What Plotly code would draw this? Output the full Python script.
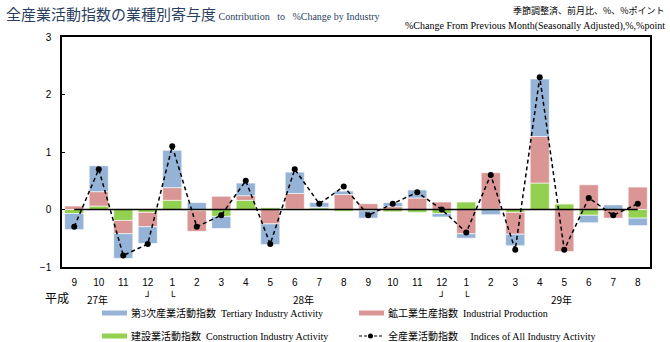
import plotly.graph_objects as go

months = [9, 10, 11, 12, 1, 2, 3, 4, 5, 6, 7, 8, 9, 10, 11, 12, 1, 2, 3, 4, 5, 6, 7, 8]
construction = [-0.07, 0.06, -0.19, -0.05, 0.16, -0.02, -0.12, 0.16, 0.03, 0.01, 0.03, -0.03,
                -0.02, -0.04, -0.05, -0.07, 0.13, 0.01, -0.05, 0.46, 0.10, -0.10, 0.00, -0.15]
industrial = [0.06, 0.25, -0.23, -0.25, 0.22, -0.36, 0.23, 0.08, -0.25, 0.27, 0.01, 0.26,
              0.10, 0.05, 0.20, 0.13, -0.42, 0.63, -0.38, 0.81, -0.73, 0.43, -0.15, 0.39]
tertiary = [-0.28, 0.45, -0.43, -0.29, 0.65, 0.12, -0.21, 0.22, -0.36, 0.37, 0.08, 0.06,
            -0.13, 0.07, 0.14, -0.06, -0.08, -0.09, -0.20, 1.00, 0.00, -0.13, 0.08, -0.13]
all_industry = [-0.3, 0.7, -0.8, -0.6, 1.1, -0.3, -0.1, 0.5, -0.6, 0.7, 0.1, 0.4,
                -0.1, 0.1, 0.3, 0.0, -0.4, 0.6, -0.7, 2.3, -0.7, 0.2, -0.1, 0.1]
y_ticks = [-1, 0, 1, 2, 3]
year_labels = ["27年", "28年", "29年"]
year_pos = [0.95, 9.35, 19.9]

W, H = 670, 342
L, R, T, B = 62, 20, 37, 75
PW, PH = W - L - R, H - T - B


def px(xp):
    return (xp - L) / PW


def py(yp):
    return (H - B - yp) / PH


FONT_MIX = "Liberation Serif, Noto Sans CJK JP"
FONT_JP = "Noto Sans CJK JP"
C_BLUE = "#95B3D7"
C_RED = "#D99694"
C_GREEN = "#92D050"

x = list(range(len(months)))
fig = go.Figure()

for name, vals, col in [("建設業活動指数", construction, C_GREEN),
                        ("鉱工業生産指数", industrial, C_RED),
                        ("第3次産業活動指数", tertiary, C_BLUE)]:
    fig.add_trace(go.Bar(x=x, y=vals, marker=dict(color=col, line=dict(color="white", width=0.6)),
                         showlegend=False, name=name))

fig.add_shape(type="line", xref="x", yref="y", x0=0, x1=len(months) - 1, y0=0, y1=0,
              line=dict(color="black", width=1.5), layer="above")

fig.add_trace(go.Scatter(x=x, y=all_industry, mode="lines+markers",
                         line=dict(color="black", width=1.5, dash="4px,3px"),
                         marker=dict(color="black", size=6),
                         name="全産業活動指数", showlegend=False))

ann = []
ann.append(dict(x=px(4), y=py(14), xref="paper", yref="paper", xanchor="left", yanchor="middle",
                showarrow=False,
                text="<span style='font-family:Noto Sans CJK JP;font-size:15px'>全産業活動指数の業種別寄与度</span>"
                     "<span style='font-family:Liberation Serif;font-size:10px'> Contribution&nbsp;&nbsp; to&nbsp;&nbsp; %Change by Industry</span>"))
ann.append(dict(x=px(667), y=py(10), xref="paper", yref="paper", xanchor="right", yanchor="middle",
                showarrow=False, text="季節調整済、前月比、%、%ポイント",
                font=dict(family=FONT_JP, size=9, color="black")))
ann.append(dict(x=px(667), y=py(26), xref="paper", yref="paper", xanchor="right", yanchor="middle",
                showarrow=False, text="%Change From Previous Month(Seasonally Adjusted),%,%point",
                font=dict(family="Liberation Serif", size=10, color="black")))
ann.append(dict(x=px(57), y=py(297), xref="paper", yref="paper", xanchor="center", yanchor="middle",
                showarrow=False, text="平成", font=dict(family=FONT_JP, size=12, color="black")))
for lab, pos in zip(year_labels, year_pos):
    ann.append(dict(x=pos, y=py(299), xref="x", yref="paper", xanchor="center", yanchor="middle",
                    showarrow=False, text=lab, font=dict(family=FONT_JP, size=10, color="black")))
for pos, ch in [(3, "┘"), (4, "└"), (15, "┘"), (16, "└")]:
    ann.append(dict(x=pos, y=py(296), xref="x", yref="paper", xanchor="center", yanchor="middle",
                    showarrow=False, text=ch, font=dict(family="DejaVu Sans", size=10, color="black")))

# manual legend
legend_items = [
    ("第3次産業活動指数&nbsp;&nbsp;Tertiary Industry Activity", C_BLUE, 102, 313, "solid"),
    ("鉱工業生産指数&nbsp;&nbsp;Industrial Production", C_RED, 359, 313, "solid"),
    ("建設業活動指数&nbsp;&nbsp;Construction Industry Activity", C_GREEN, 102, 336, "solid"),
    ("全産業活動指数&nbsp;&nbsp;&nbsp;&nbsp;&nbsp;Indices of All Industry Activity", "black", 359, 336, "dash"),
]
for text, col, lx, ly, style in legend_items:
    if style == "solid":
        fig.add_shape(type="line", xref="paper", yref="paper", x0=px(lx), x1=px(lx + 25),
                      y0=py(ly), y1=py(ly), line=dict(color=col, width=5))
    else:
        fig.add_shape(type="line", xref="paper", yref="paper", x0=px(lx), x1=px(lx + 23),
                      y0=py(ly), y1=py(ly), line=dict(color=col, width=1.2, dash="3px,2px"))
        fig.add_shape(type="circle", xref="paper", yref="paper", x0=px(lx + 9), x1=px(lx + 14),
                      y0=py(ly + 2.5), y1=py(ly - 2.5), fillcolor="black", line=dict(width=0))
    ann.append(dict(x=px(lx + 27), y=py(ly), xref="paper", yref="paper", xanchor="left",
                    yanchor="middle", showarrow=False, text=text,
                    font=dict(family=FONT_MIX, size=10, color="black")))

fig.update_layout(
    width=W, height=H,
    margin=dict(l=L, r=R, t=T, b=B),
    paper_bgcolor="white", plot_bgcolor="white",
    barmode="relative", bargap=0.22,
    showlegend=False,
    annotations=ann,
    xaxis=dict(range=[-0.5, len(months) - 0.5], tickmode="array", tickvals=x,
               ticktext=[str(m) for m in months], showgrid=False, zeroline=False,
               showline=True, mirror=True, linecolor="black", linewidth=1.5, ticks="",
               ticklabelstandoff=5,
               tickfont=dict(family="Liberation Sans", size=10, color="black")),
    yaxis=dict(range=[-1, 3], tickmode="array", tickvals=y_ticks, showgrid=False, zeroline=False,
               showline=True, mirror=True, linecolor="black", linewidth=1.5,
               ticks="inside", ticklen=3, tickcolor="black", ticklabelstandoff=7,
               tickfont=dict(family="Liberation Sans", size=10, color="black")),
)

fig.write_html("out.html")
